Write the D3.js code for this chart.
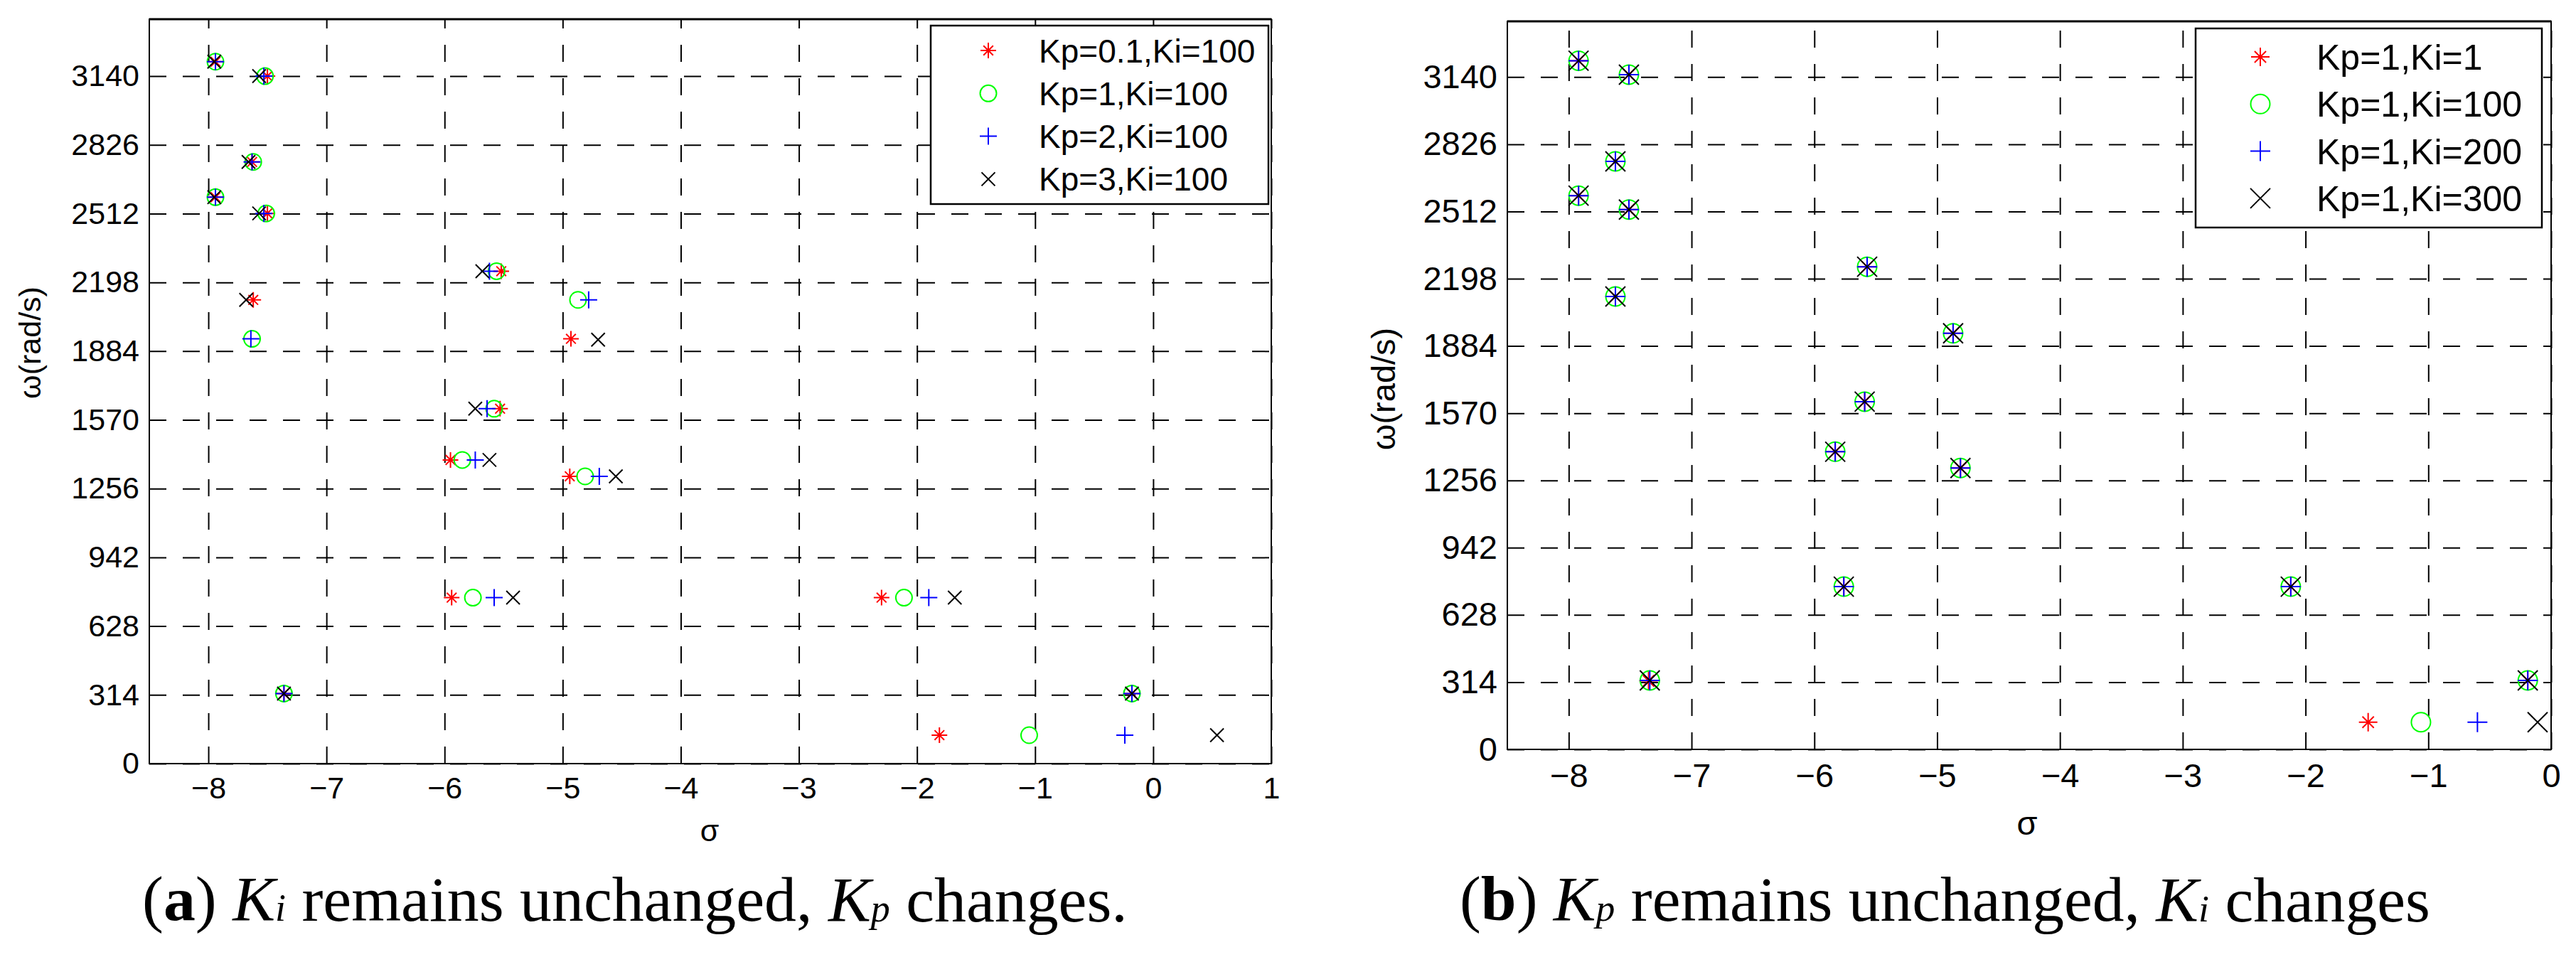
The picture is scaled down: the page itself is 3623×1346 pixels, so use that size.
<!DOCTYPE html>
<html>
<head>
<meta charset="utf-8">
<script src="https://cdn.jsdelivr.net/npm/d3@7"></script>
<style>
  body { margin: 0; background: #fff; }
  svg { display: block; }
</style>
</head>
<body>
<div id="output"></div>
<script>
// Tick values (same ω ticks on both panels)
const yTicks = [0, 314, 628, 942, 1256, 1570, 1884, 2198, 2512, 2826, 3140];
const xTicksA = [-8, -7, -6, -5, -4, -3, -2, -1, 0, 1];
const xTicksB = [-8, -7, -6, -5, -4, -3, -2, -1, 0];

// Panel (a): Ki = 100, Kp changes. Points are [sigma, omega]
const labelsA = ["Kp=0.1,Ki=100", "Kp=1,Ki=100", "Kp=2,Ki=100", "Kp=3,Ki=100"];
const kp01 = [[-7.94, 3206], [-7.50, 3140], [-7.63, 2748], [-7.94, 2587], [-7.50, 2513],
  [-5.52, 2249], [-7.62, 2118], [-4.93, 1940], [-5.53, 1621], [-5.95, 1387], [-4.94, 1312],
  [-5.94, 758], [-7.36, 320], [-2.30, 758], [-0.18, 320], [-1.81, 130]];
const kp1 = [[-7.94, 3206], [-7.52, 3140], [-7.62, 2748], [-7.94, 2587], [-7.51, 2513],
  [-5.56, 2249], [-7.63, 1940], [-4.87, 2118], [-5.58, 1621], [-5.85, 1387], [-4.81, 1312],
  [-5.76, 758], [-7.36, 320], [-2.11, 758], [-0.18, 320], [-1.05, 130]];
const kp2 = [[-7.94, 3206], [-7.53, 3140], [-7.63, 2748], [-7.94, 2587], [-7.53, 2513],
  [-5.62, 2249], [-7.64, 1940], [-4.78, 2118], [-5.64, 1621], [-5.74, 1387], [-4.69, 1312],
  [-5.58, 758], [-7.36, 320], [-1.90, 758], [-0.18, 320], [-0.24, 130]];
const kp3 = [[-7.95, 3206], [-7.57, 3140], [-7.66, 2748], [-7.95, 2587], [-7.57, 2513],
  [-5.68, 2249], [-7.68, 2118], [-4.70, 1936], [-5.74, 1621], [-5.62, 1387], [-4.55, 1312],
  [-5.42, 758], [-7.36, 320], [-1.68, 758], [-0.18, 320], [0.54, 130]];

// Panel (b): Kp = 1, Ki changes
const labelsB = ["Kp=1,Ki=1", "Kp=1,Ki=100", "Kp=1,Ki=200", "Kp=1,Ki=300"];
const ki1 = [[-7.92, 3216], [-7.51, 3151], [-7.62, 2746], [-7.92, 2586], [-7.51, 2521],
  [-5.57, 2254], [-7.62, 2115], [-4.87, 1943], [-5.59, 1624], [-5.83, 1390], [-4.81, 1314],
  [-5.76, 760], [-7.35, 320], [-2.12, 760], [-0.19, 322], [-1.49, 127]];
const ki100 = [[-7.92, 3216], [-7.51, 3151], [-7.62, 2746], [-7.92, 2586], [-7.51, 2521],
  [-5.57, 2254], [-7.62, 2115], [-4.87, 1943], [-5.59, 1624], [-5.83, 1390], [-4.81, 1314],
  [-5.76, 760], [-7.34, 322], [-2.12, 760], [-0.19, 322], [-1.06, 127]];
const ki200 = [[-7.92, 3216], [-7.51, 3151], [-7.62, 2746], [-7.92, 2586], [-7.51, 2521],
  [-5.57, 2254], [-7.62, 2115], [-4.87, 1943], [-5.59, 1624], [-5.83, 1390], [-4.81, 1314],
  [-5.76, 760], [-7.34, 322], [-2.12, 760], [-0.19, 322], [-0.60, 127]];
const ki300 = [[-7.92, 3216], [-7.51, 3151], [-7.62, 2746], [-7.92, 2586], [-7.51, 2521],
  [-5.57, 2254], [-7.62, 2115], [-4.87, 1943], [-5.59, 1624], [-5.83, 1390], [-4.81, 1314],
  [-5.76, 760], [-7.34, 322], [-2.12, 760], [-0.19, 322], [-0.11, 127]];

const markerKinds = ["star", "circle", "plus", "x"];
const markerColors = ["#ff0000", "#00ff00", "#0000ff", "#000000"];

const svg = d3.select("#output").append("svg")
  .attr("width", 3623)
  .attr("height", 1346);
svg.append("rect").attr("width", 3623).attr("height", 1346).attr("fill", "#fff");

// stroked marker shapes like the MATLAB ones
function markerPath(kind, s) {
  if (kind === "plus") return `M${-s},0H${s}M0,${-s}V${s}`;
  if (kind === "x") return `M${-s},${-s}L${s},${s}M${-s},${s}L${s},${-s}`;
  if (kind === "circle") return `M${s},0A${s},${s} 0 1,1 ${-s},0A${s},${s} 0 1,1 ${s},0Z`;
  // asterisk = plus + shorter x
  const d = s * 0.62;
  return `M${-s},0H${s}M0,${-s}V${s}M${-d},${-d}L${d},${d}M${-d},${d}L${d},${-d}`;
}

function drawPanel(p) {
  const g = svg.append("g");
  const x = d3.scaleLinear().domain(p.xDomain).range([p.left, p.right]);
  const y = d3.scaleLinear().domain([0, 3400]).range([p.bottom, p.top]);
  const w = p.right - p.left, h = p.bottom - p.top;

  // dashed grid
  g.append("g")
    .attr("transform", `translate(0,${p.bottom})`)
    .call(d3.axisBottom(x).tickValues(p.xTicks).tickSize(-h).tickFormat(""))
    .call(a => a.select(".domain").remove())
    .selectAll("line").attr("stroke", "#000").attr("stroke-width", 2).attr("stroke-dasharray", "24,23");
  g.append("g")
    .attr("transform", `translate(${p.left},0)`)
    .call(d3.axisLeft(y).tickValues(yTicks).tickSize(-w).tickFormat(""))
    .call(a => a.select(".domain").remove())
    .selectAll("line").attr("stroke", "#000").attr("stroke-width", 2).attr("stroke-dasharray", "24,23");

  // tick labels
  g.append("g")
    .attr("transform", `translate(0,${p.bottom})`)
    .call(d3.axisBottom(x).tickValues(p.xTicks).tickSize(0).tickPadding(p.xPad).tickFormat(d3.format("d")))
    .call(a => a.select(".domain").remove())
    .selectAll("text")
    .attr("font-family", "Liberation Sans, Arial, sans-serif")
    .attr("font-size", p.tickFont).attr("fill", "#000");
  g.append("g")
    .attr("transform", `translate(${p.left},0)`)
    .call(d3.axisLeft(y).tickValues(yTicks).tickSize(0).tickPadding(14).tickFormat(d3.format("d")))
    .call(a => a.select(".domain").remove())
    .selectAll("text")
    .attr("font-family", "Liberation Sans, Arial, sans-serif")
    .attr("font-size", p.tickFont).attr("fill", "#000");

  // frame
  g.append("rect")
    .attr("x", p.left).attr("y", p.top).attr("width", w).attr("height", h)
    .attr("fill", "none").attr("stroke", "#000").attr("stroke-width", 2);
  g.append("line")
    .attr("x1", p.left).attr("x2", p.right).attr("y1", p.top).attr("y2", p.top)
    .attr("stroke", "#000").attr("stroke-width", 3);

  // axis titles
  g.append("text")
    .attr("x", p.sigmaX).attr("y", p.sigmaY)
    .attr("text-anchor", "middle")
    .attr("font-family", "Liberation Sans, Arial, sans-serif")
    .attr("font-size", p.tickFont)
    .text("σ");
  g.append("text")
    .attr("transform", `translate(${p.omegaX},${p.omegaY}) rotate(-90)`)
    .attr("text-anchor", "middle")
    .attr("font-family", "Liberation Sans, Arial, sans-serif")
    .attr("font-size", p.tickFont)
    .text("ω(rad/s)");

  // markers, red first, black on top
  p.series.forEach((pts, i) => {
    g.append("g").selectAll("path")
      .data(pts)
      .enter().append("path")
      .attr("transform", d => `translate(${x(d[0])},${y(d[1])})`)
      .attr("d", markerPath(markerKinds[i], p.markerSize[i]))
      .attr("fill", "none")
      .attr("stroke", markerColors[i])
      .attr("stroke-width", 2);
  });

  // legend
  const lg = g.append("g");
  lg.append("rect")
    .attr("x", p.legend.x).attr("y", p.legend.y)
    .attr("width", p.legend.w).attr("height", p.legend.h)
    .attr("fill", "#fff").attr("stroke", "#000").attr("stroke-width", 2.5);
  p.labels.forEach((lab, i) => {
    const cy = p.legend.y + p.legend.row0 + i * p.legend.step;
    lg.append("path")
      .attr("transform", `translate(${p.legend.x + p.legend.mx},${cy})`)
      .attr("d", markerPath(markerKinds[i], p.markerSize[i]))
      .attr("fill", "none").attr("stroke", markerColors[i]).attr("stroke-width", 2);
    lg.append("text")
      .attr("x", p.legend.x + p.legend.tx).attr("y", cy)
      .attr("dy", "0.36em")
      .attr("font-family", "Liberation Sans, Arial, sans-serif")
      .attr("font-size", p.legend.font)
      .text(lab);
  });

  // caption (serif, mixed styles)
  const cap = svg.append("text")
    .attr("x", p.caption.x).attr("y", p.caption.y)
    .attr("font-family", "Liberation Serif, 'Times New Roman', serif")
    .attr("font-size", 80);
  p.caption.parts.forEach(part => {
    const t = cap.append("tspan").text(part.t);
    if (part.b) t.attr("font-weight", "bold");
    if (part.i) t.attr("font-style", "italic");
    if (part.sub) t.attr("font-size", "0.6em").attr("dy", "0.02em");
  });
  // fit caption to the measured width of the original
  const bw = cap.node().getBBox().width;
  cap.attr("font-size", 80 * p.caption.w / bw);
}

drawPanel({
  left: 210, right: 1788, top: 27, bottom: 1074,
  xDomain: [-8.5, 1], xTicks: xTicksA,
  tickFont: 43, xPad: 18,
  sigmaX: 998, sigmaY: 1183, omegaX: 57, omegaY: 482,
  series: [kp01, kp1, kp2, kp3],
  markerSize: [11, 11.5, 12, 9.5],
  labels: labelsA,
  legend: { x: 1309, y: 36, w: 475, h: 251, row0: 35, step: 60.3, mx: 81, tx: 152, font: 46 },
  caption: { x: 200, y: 1294, w: 1386, parts: [
    { t: "(" }, { t: "a", b: true }, { t: ") " }, { t: "K", i: true }, { t: "i", i: true, sub: true },
    { t: " remains unchanged, " }, { t: "K", i: true }, { t: "p", i: true, sub: true }, { t: " changes." }
  ] }
});

drawPanel({
  left: 2120, right: 3588, top: 30, bottom: 1054,
  xDomain: [-8.5, 0], xTicks: xTicksB,
  tickFont: 47, xPad: 20,
  sigmaX: 2851, sigmaY: 1174, omegaX: 1962, omegaY: 547,
  series: [ki1, ki100, ki200, ki300],
  markerSize: [13, 13.5, 14, 14],
  labels: labelsB,
  legend: { x: 3088, y: 40, w: 487, h: 280, row0: 40, step: 66.3, mx: 91, tx: 170, font: 50 },
  caption: { x: 2053, y: 1294, w: 1365, parts: [
    { t: "(" }, { t: "b", b: true }, { t: ") " }, { t: "K", i: true }, { t: "p", i: true, sub: true },
    { t: " remains unchanged, " }, { t: "K", i: true }, { t: "i", i: true, sub: true }, { t: " changes" }
  ] }
});
</script>
</body>
</html>
